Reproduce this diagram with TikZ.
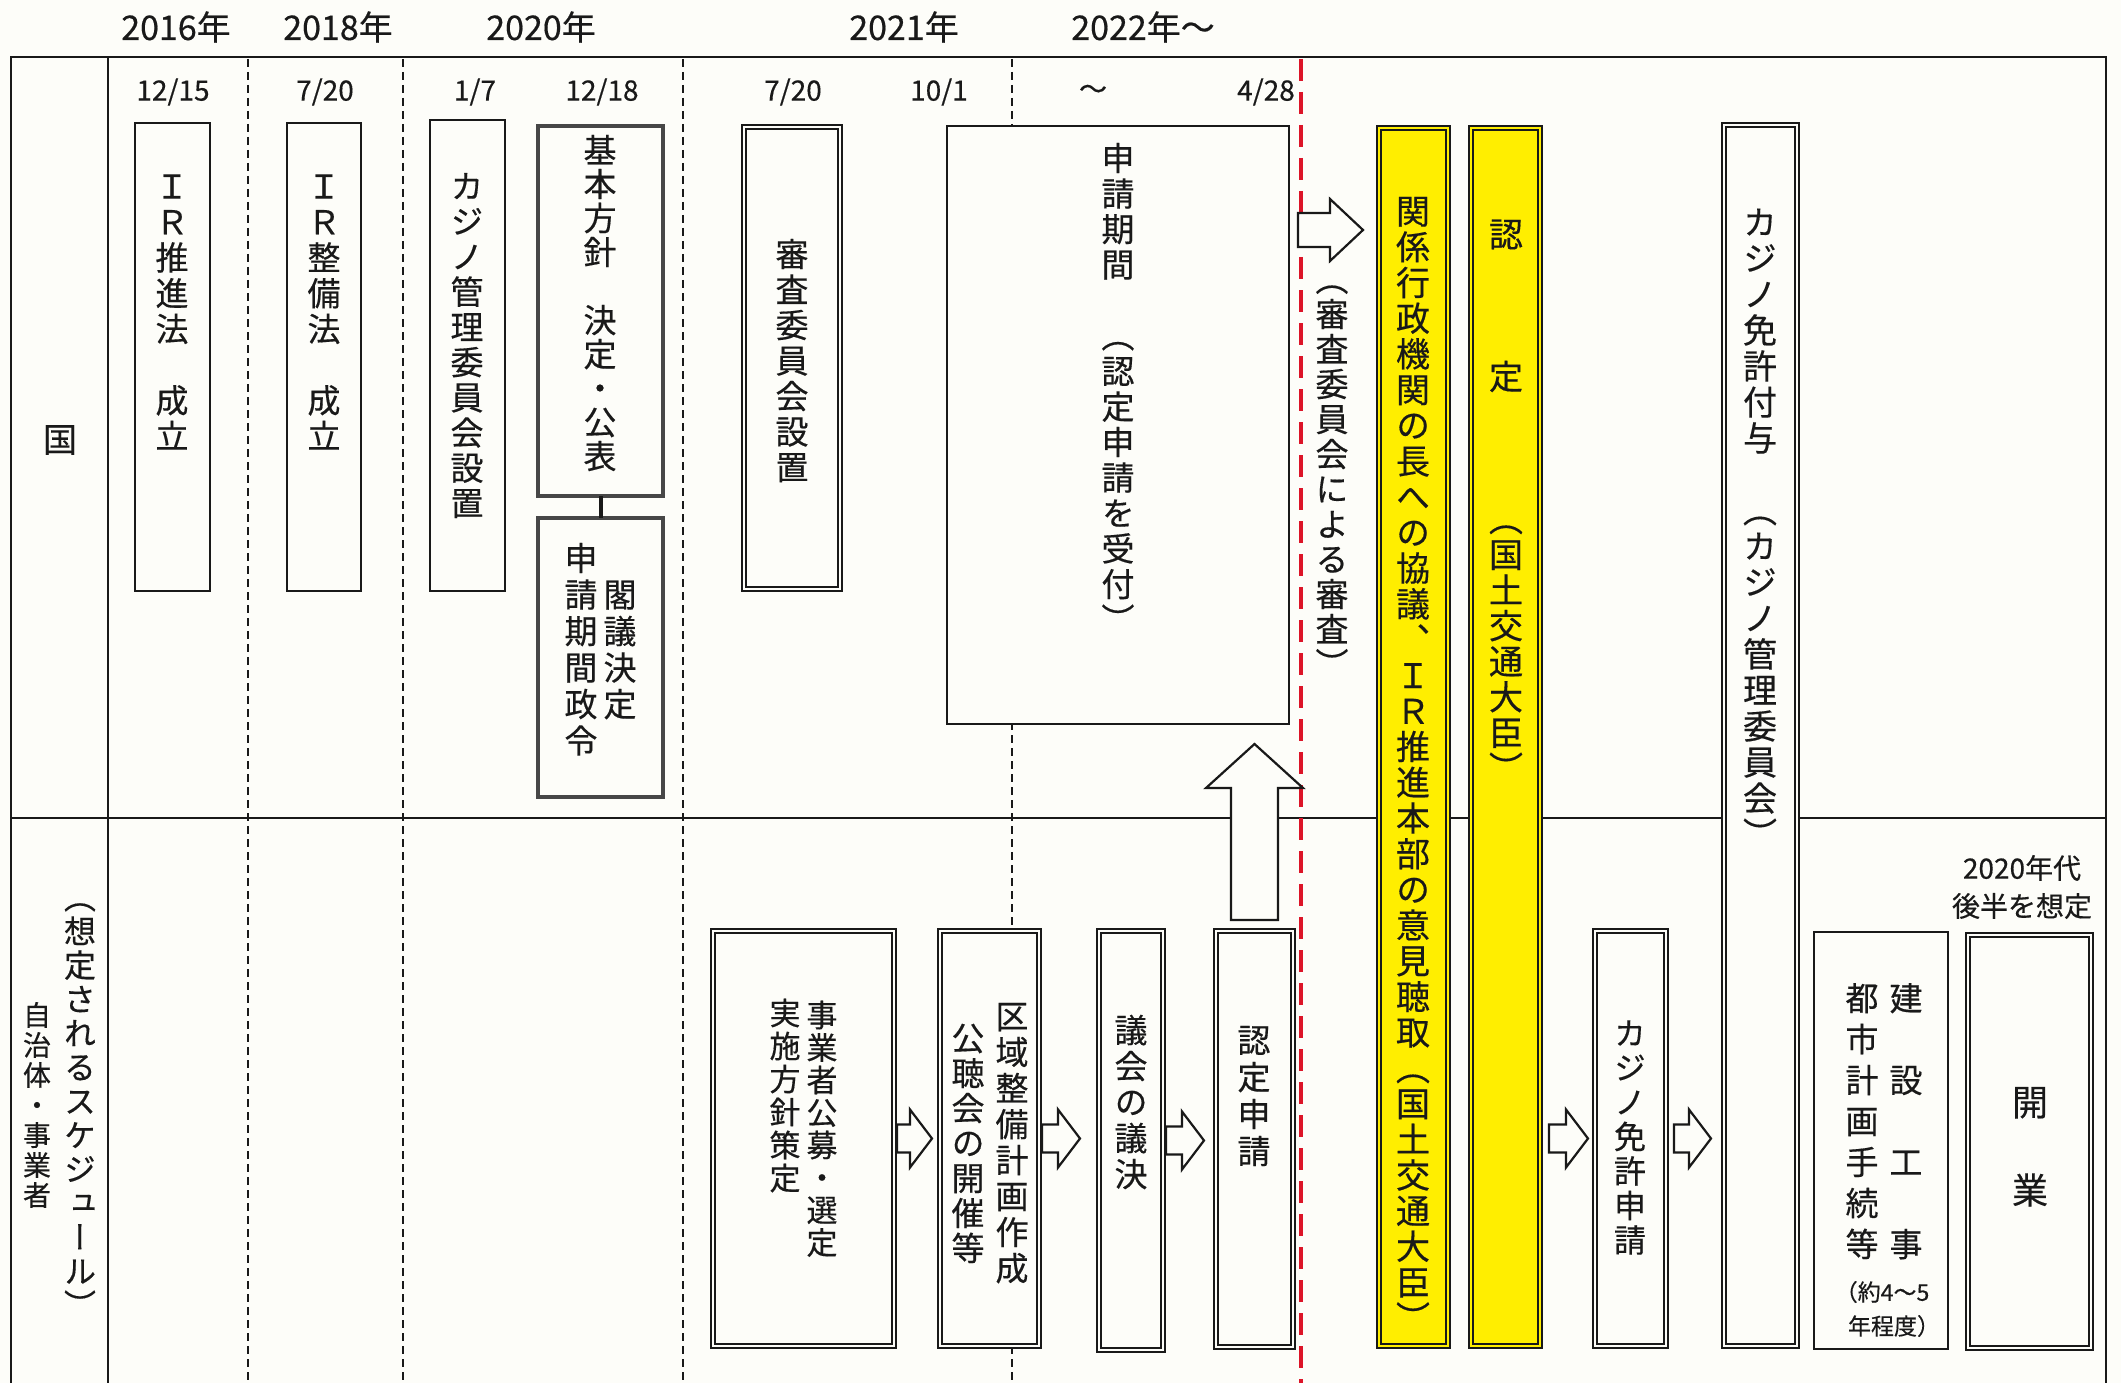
\documentclass[tikz,border=0pt]{standalone}
\usepackage{fontspec}
\setmainfont[FakeBold=0.4,AutoFakeBold=0.4]{Noto Sans CJK JP}
\newfontfamily\vjp[RawFeature=+vert,FakeBold=0.4]{Noto Sans CJK JP}
\usetikzlibrary{calc}
\definecolor{bg}{RGB}{253,253,249}
\definecolor{ink}{RGB}{25,25,25}
\definecolor{ylw}{RGB}{255,238,0}
\definecolor{rline}{RGB}{220,20,40}
\makeatletter
\newcommand\VT[2]{\vtop{\baselineskip=#1pt\lineskiplimit=-\maxdimen\lineskip=0pt
  \@tfor\vt@c:=#2\do{\hbox to 1em{\hss\vt@c\hss\vrule width0pt height.88em depth.12em}}}}
\makeatother
\newcommand\bx[6]{\node[#2, minimum width={(#5-#3)*1pt}, minimum height={(#6-#4)*1pt}] (#1) at ({(#3+#5)/2},{(#4+#6)/2}) {};}
\newcommand\bxd[6]{\node[#2, minimum width={(#5-#3-6)*1pt}, minimum height={(#6-#4-6)*1pt}] (#1) at ({(#3+#5)/2},{(#4+#6)/2}) {};}
\newcommand\vt[6]{\node[inner sep=0, outer sep=0, text=ink] (#1) at (#2,#3) {\vjp\fontsize{#5}{#4}\selectfont\VT{#4}{#6}};}
\tikzset{
 frame/.style={draw=ink, line width=2.4pt},
 gridd/.style={draw=ink, line width=1.6pt, dash pattern=on 8pt off 5pt},
 redd/.style={draw=rline, line width=3.2pt, dash pattern=on 22pt off 11pt},
 sbox/.style={draw=ink, line width=2.6pt, fill=bg, inner sep=0, outer sep=0},
 gbox/.style={sbox, draw=black!72, line width=3.2pt},
 dbox/.style={draw=ink, line width=2pt, double=bg, double distance=2.6pt, fill=bg, inner sep=0, outer sep=0},
 ybox/.style={dbox, double=ylw, fill=ylw},
 harrow/.style={draw=ink, line width=2.2pt, fill=bg, line join=miter},
 yr/.style={font=\fontsize{34}{36}\selectfont, inner sep=0, text=ink},
 dt/.style={font=\fontsize{28}{30}\selectfont, inner sep=0, text=ink},
 ht/.style={inner sep=0, text=ink},
 pics/rarr/.style={code={\draw[harrow] (0,-14) -- ({#1-22},-14) -- ({#1-22},-29) -- (#1,0) -- ({#1-22},29) -- ({#1-22},14) -- (0,14) -- cycle;}},
 pics/bigarr/.style={code={\draw[harrow] (0,-17) -- (32,-17) -- (32,-31) -- (65,0) -- (32,31) -- (32,17) -- (0,17) -- cycle;}},
 pics/uparr/.style={code={\draw[harrow] (-23.5,0) -- (-23.5,-132) -- (-48.5,-132) -- (0,-176) -- (48.5,-132) -- (23.5,-132) -- (23.5,0) -- cycle;}},
}
\begin{document}
\begin{tikzpicture}[x=1pt,y=-1pt]
\useasboundingbox (0,0) rectangle (2121,1383);
\fill[bg] (0,0) rectangle (2121,1383);
% grid
\draw[frame] (11,1383) -- (11,57) -- (2106,57) -- (2106,1383);
\draw[frame] (108,57) -- (108,1383);
\draw[frame] (11,818) -- (2106,818);
\foreach \gx in {248,403,683,1012} {\draw[gridd] (\gx,59) -- (\gx,1383);}
\draw[redd] (1301,59) -- (1301,1383);
% headers
\node[yr] (y16) at (176,27) {2016年};
\node[yr] (y18) at (338,27) {2018年};
\node[yr] (y20) at (541,27) {2020年};
\node[yr] (y21) at (904,27) {2021年};
\node[yr] (y22) at (1143,27) {2022年～};
\node[dt] (d1) at (173,92) {12/15};
\node[dt] (d2) at (325,92) {7/20};
\node[dt] (d3) at (475,92) {1/7};
\node[dt] (d4) at (602,92) {12/18};
\node[dt] (d5) at (793,92) {7/20};
\node[dt] (d6) at (939,92) {10/1};
\node[dt] (d7) at (1093,92) {～};
\node[dt] (d8) at (1266,92) {4/28};
% row labels
\node[ht, font=\fontsize{34}{36}\selectfont] (kuni) at (60,440) {国};
\vt{L1}{80}{1101}{34}{32}{（想定されるスケジュール）}
\vt{L2}{37}{1105}{30}{28}{自治体・事業者}
% boxes upper
\bx{A}{sbox}{135}{123}{210}{591}
\bx{B}{sbox}{287}{123}{361}{591}
\bx{C}{sbox}{430}{120}{505}{591}
\bx{D}{gbox}{538}{126}{663}{496}
\bx{E}{gbox}{538}{518}{663}{797}
\draw[line width=4pt, draw=ink] (D.south) -- (E.north);
\bxd{F}{dbox}{741}{124}{843}{592}
\bx{G}{sbox}{947}{126}{1289}{724}
\bxd{Y1}{ybox}{1376}{125}{1451}{1349}
\bxd{Y2}{ybox}{1468}{125}{1543}{1349}
\bxd{H}{dbox}{1721}{122}{1800}{1349}
% boxes lower
\bxd{I}{dbox}{710}{928}{897}{1349}
\bxd{J}{dbox}{937}{928}{1042}{1349}
\bxd{K}{dbox}{1096}{928}{1166}{1353}
\bxd{L}{dbox}{1213}{928}{1296}{1350}
\bxd{M}{dbox}{1592}{928}{1669}{1349}
\bx{N}{sbox}{1814}{932}{1948}{1349}
\bxd{O}{dbox}{1965}{932}{2094}{1351}
% arrows
\pic at (1298,230) {bigarr};
\pic at ($(L.north)+(0,-11)$) {uparr};
\pic at ($(I.east)+(3,0)$) {rarr=35};
\pic at ($(J.east)+(3,0)$) {rarr=38};
\pic at ($(K.east)+(3,0)$) {rarr=38};
\pic at ($(M.west)+(-46,0)$) {rarr=39};
\pic at ($(M.east)+(8,0)$) {rarr=37};
% texts upper
\vt{At}{172}{311}{35.7}{33}{ＩＲ推進法　成立}
\vt{Bt}{324}{311}{35.7}{33}{ＩＲ整備法　成立}
\vt{Ct}{467}{344.5}{35.2}{33}{カジノ管理委員会設置}
\vt{Dt}{600}{303}{34}{33}{基本方針　決定・公表}
\vt{Et1}{581}{649.25}{36.5}{33}{申請期間政令}
\vt{Et2}{620}{649.25}{36.5}{33}{閣議決定}
\vt{Ft}{792}{360.5}{35.5}{33}{審査委員会設置}
\vt{Gt}{1118}{388.75}{35.5}{33}{申請期間　（認定申請を受付）}
\vt{Rt}{1332}{471.5}{35}{33}{（審査委員会による審査）}
\vt{Y1t}{1413}{764.4}{35.7}{34}{関係行政機関の長への協議、ＩＲ推進本部の意見聴取（国土交通大臣）}
\vt{Y2t}{1506}{501}{35.6}{34}{認　　　定　　　（国土交通大臣）}
\vt{Ht}{1760}{528}{36}{34}{カジノ免許付与　（カジノ管理委員会）}
% texts lower
\vt{It1}{822}{1128.75}{32.5}{31}{事業者公募・選定}
\vt{It2}{785}{1095.5}{33}{31}{実施方針策定}
\vt{Jt1}{1012}{1142}{36}{33}{区域整備計画作成}
\vt{Jt2}{968}{1143}{35}{33}{公聴会の開催等}
\vt{Kt}{1131}{1102}{36}{33}{議会の議決}
\vt{Lt}{1254}{1095.5}{37}{33}{認定申請}
\vt{Mt}{1630}{1136.5}{34.5}{32}{カジノ免許申請}
\vt{Nt1}{1862}{1121}{41}{33}{都市計画手続等}
\vt{Nt2}{1906}{1121}{41}{33}{建　設　工　事}
\node[ht, font=\fontsize{23}{25}\selectfont] (Nn1) at (1882,1292) {（約4～5};
\node[ht, font=\fontsize{23}{25}\selectfont] (Nn2) at (1894,1326) {年程度）};
\vt{Ot}{2030}{1146}{44}{36}{開　業}
\node[ht, font=\fontsize{28}{30}\selectfont] (s1) at (2022,868) {2020年代};
\node[ht, font=\fontsize{28}{30}\selectfont] (s2) at (2022,906) {後半を想定};
\end{tikzpicture}
\end{document}
